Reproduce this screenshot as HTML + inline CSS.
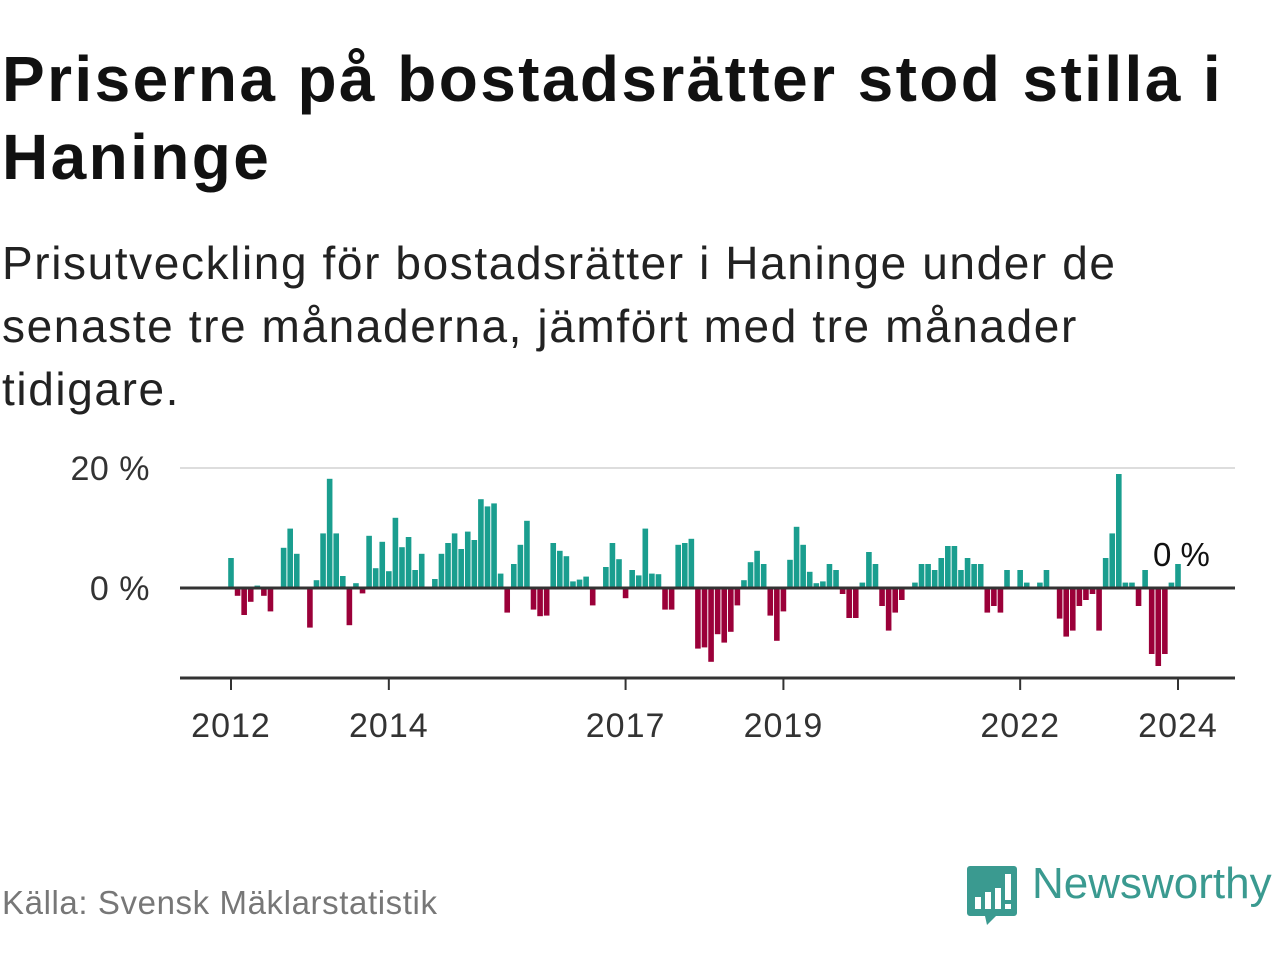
<!DOCTYPE html>
<html><head><meta charset="utf-8"><style>
body{margin:0;width:1280px;height:960px;background:#fff;overflow:hidden;font-family:"Liberation Sans",sans-serif;}
.t{position:absolute;left:2px;margin:0;}
</style></head><body>
<h1 class="t" style="top:40px;font-size:64px;line-height:78px;font-weight:bold;color:#111;width:1278px;letter-spacing:2.4px;">Priserna på bostadsrätter stod stilla i Haninge</h1>
<p class="t" style="top:232px;font-size:46px;line-height:63px;color:#222;width:1140px;letter-spacing:1.6px;">Prisutveckling för bostadsrätter i Haninge under de senaste tre månaderna, jämfört med tre månader tidigare.</p>
<svg id="chart" width="1280" height="960" style="position:absolute;left:0;top:0" xmlns="http://www.w3.org/2000/svg"></svg>
<div class="t" style="top:884px;font-size:33px;color:#777;letter-spacing:0.6px;">Källa: Svensk Mäklarstatistik</div>
<div style="position:absolute;left:966px;top:864px;">
<svg width="52" height="62"><path d="M4 2h44a3 3 0 0 1 3 3v44a3 3 0 0 1-3 3H30l-9 9-2-9H4a3 3 0 0 1-3-3V5a3 3 0 0 1 3-3z" fill="#3a9a90"/><rect x="9" y="33" width="6" height="12" fill="#fff"/><rect x="19" y="28" width="6" height="17" fill="#fff"/><rect x="29" y="24" width="6" height="21" fill="#fff"/><rect x="39" y="10" width="6" height="26" fill="#fff"/><rect x="39" y="40" width="6" height="5" fill="#fff"/></svg>
<span style="position:absolute;left:66px;top:-5px;font-size:44px;color:#3a9a90;white-space:nowrap;">Newsworthy</span>
</div>
<script>
const values=[5.0,-1.3,-4.5,-2.3,0.4,-1.3,-3.9,0,6.7,9.9,5.7,0,-6.6,1.3,9.1,18.2,9.1,2.0,-6.2,0.8,-0.9,8.7,3.3,7.7,2.8,11.7,6.8,8.5,3.0,5.7,0,1.5,5.7,7.5,9.1,6.5,9.4,8.0,14.8,13.6,14.1,2.4,-4.1,4.0,7.2,11.2,-3.6,-4.7,-4.6,7.5,6.2,5.3,1.1,1.4,1.9,-2.9,0,3.5,7.5,4.8,-1.7,3.0,2.1,9.9,2.4,2.3,-3.6,-3.6,7.2,7.5,8.2,-10.1,-9.9,-12.3,-7.7,-9.1,-7.3,-2.9,1.3,4.3,6.2,4.0,-4.6,-8.8,-3.9,4.7,10.2,7.2,2.7,0.8,1.1,4.0,3.0,-1.0,-5.0,-5.0,0.9,6.0,4.0,-3.0,-7.1,-4.1,-2.0,0,0.9,4.0,4.0,3.0,5.0,7.0,7.0,3.0,5.0,4.0,4.0,-4.1,-3.0,-4.1,3.0,0,3.0,0.9,0,0.9,3.0,0,-5.1,-8.1,-7.1,-3.0,-2.0,-1.0,-7.1,5.0,9.1,19.0,0.9,0.9,-3.0,3.0,-11.0,-13.0,-11.0,0.9,4.0];
const startYear=2012;
const tickYears=[2012,2014,2017,2019,2022,2024];
const yTicks=[0,20];
const lastLabel="0 %";
const svg=document.getElementById('chart');
const NS='http://www.w3.org/2000/svg';
function x(m){return 231+m*(1178-231)/144;}
function y(v){return 588-v*6;}
function mk(t,a){const e=document.createElementNS(NS,t);for(const k in a)e.setAttribute(k,a[k]);svg.appendChild(e);return e;}
yTicks.forEach(v=>{
 if(v!==0){const g=mk('line',{x1:180,x2:1235,y1:y(v),y2:y(v),stroke:'#ddd','stroke-width':2});
 
 }
 const t=mk('text',{x:150,y:y(v)+12,'text-anchor':'end','font-size':34,fill:'#333','letter-spacing':'0.5','font-family':'Liberation Sans, sans-serif'});
 t.textContent=v+' %';
 
 
});
values.forEach((v,i)=>{
 if(v===0)return;
 const r=mk('rect',{x:x(i)-2.8,width:5.6,y:Math.min(y(v),y(0)),height:Math.abs(y(v)-y(0)),fill:v>0?'#1a9e8f':'#9b0039'});
 
 
});
const z=mk('line',{x1:180,x2:1235,y1:y(0),y2:y(0),stroke:'#333','stroke-width':3});


const ax=mk('line',{x1:180,x2:1235,y1:678,y2:678,stroke:'#333','stroke-width':3});


tickYears.forEach(yr=>{
 const m=(yr-startYear)*12;
 const tk=mk('line',{x1:x(m),x2:x(m),y1:678,y2:690,stroke:'#333','stroke-width':2});
 
 
 const t=mk('text',{x:x(m),y:737,'text-anchor':'middle','font-size':34,fill:'#333','letter-spacing':'1','font-family':'Liberation Sans, sans-serif'});
 t.textContent=yr;
 
 
});
const ll=mk('text',{x:x(values.length-1)-25,y:566,'font-size':33,fill:'#111','font-family':'Liberation Sans, sans-serif'});
ll.textContent=lastLabel;


</script>
</body></html>
